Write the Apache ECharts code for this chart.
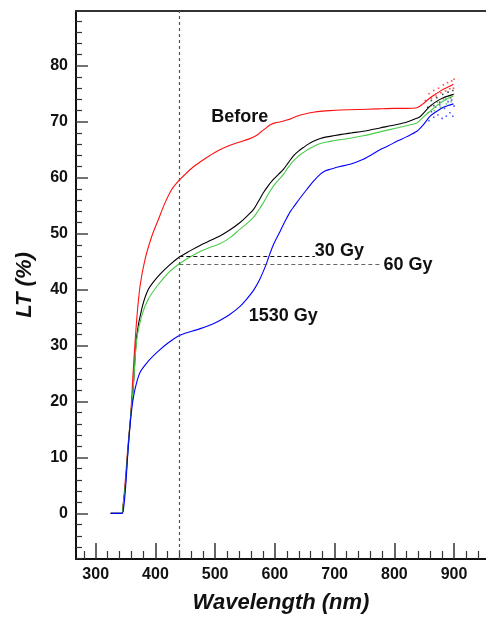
<!DOCTYPE html>
<html>
<head>
<meta charset="utf-8">
<script src="https://cdn.jsdelivr.net/npm/echarts@6/dist/echarts.min.js"></script>
<style>html,body{margin:0;padding:0;background:#fff}#c{width:486px;height:619px}</style>
</head>
<body>
<div id="c"></div>
<script>
// ---- data (wavelength nm, LT %) ----
const before = [[325,0],[343,0],[346,1.6],[350,6.5],[354,12],[358.6,17.6],[363,25.8],[368.7,34.7],[374.2,40.6],[382.6,45.4],[393.8,49.5],[404.8,52.5],[416,55.5],[427.3,57.9],[438.4,59.4],[449.6,60.6],[460.8,61.7],[474.7,62.8],[488.6,63.8],[508,65.0],[525,65.8],[541.7,66.4],[556,66.9],[569.7,67.6],[578,68.3],[586.4,69.0],[593,69.5],[600.3,69.8],[610,70.0],[620,70.3],[628,70.6],[636.7,71.0],[650,71.4],[664.5,71.7],[680,71.9],[692.5,72.0],[709,72.1],[740,72.2],[770,72.3],[800,72.4],[820,72.4],[837.7,72.5],[848,73.2],[860,74.3],[870,75.0],[882,75.8],[890,76.2],[899,76.7]];
const gy30 = [[325,0],[343.5,0],[346,1.4],[350,5.5],[354,11.4],[358.6,17.4],[363,22.8],[368.7,31.7],[377,36.5],[388,40.0],[404.8,42.4],[421.6,44.2],[438.4,45.7],[449.6,46.4],[460.8,47.1],[474.7,47.9],[490,48.7],[508,49.6],[525,50.7],[541.7,52.0],[553,53.1],[564,54.3],[572,55.7],[580.7,57.3],[589,58.6],[597.5,59.7],[606,60.6],[614.3,61.5],[622,62.6],[631,63.9],[640,64.8],[647.8,65.4],[656,66.0],[664.5,66.5],[676,67.0],[686.9,67.3],[709,67.7],[728,68.0],[748,68.3],[776,68.9],[804,69.5],[820,69.9],[832,70.4],[843,70.9],[852,71.9],[860,72.8],[870,73.6],[882,74.3],[890,74.6],[899,74.9]];
const gy60 = [[325,0],[343.5,0],[346,1.4],[350,5.5],[354,11.4],[358.6,17.4],[363,22.8],[368.7,31.1],[377,35.3],[388,38.3],[404.8,40.9],[421.6,43.0],[438.4,44.5],[449.6,45.3],[460.8,46.0],[474.7,46.8],[490,47.5],[508,48.2],[525,49.3],[541.7,50.8],[553,51.8],[564,52.9],[572,54.1],[580.7,55.5],[589,57.1],[597.5,58.5],[606,59.6],[614.3,60.6],[622,61.8],[631,63.0],[640,63.9],[647.8,64.5],[656,65.1],[664.5,65.6],[676,66.1],[686.9,66.4],[709,66.8],[728,67.1],[748,67.5],[776,68.2],[804,68.9],[820,69.3],[837.7,69.8],[848,70.8],[860,71.9],[870,72.8],[882,73.7],[890,74.2],[899,74.6]];
const gy1530 = [[325,0],[344,0],[347,1.2],[350,4.6],[353,9.5],[356.5,14.5],[360.3,18.6],[365.8,22.2],[374.2,25.2],[388,27.2],[404.8,29.0],[421.6,30.5],[438.4,31.7],[449.6,32.2],[469,32.8],[483,33.3],[497,33.9],[510,34.6],[525,35.6],[541.7,37.0],[552.8,38.3],[565,40.0],[575,41.9],[585,44.4],[589,45.6],[597,47.9],[608.7,50.4],[617,52.2],[625.5,53.9],[633,55.0],[641,56.2],[653.4,57.9],[664,59.3],[675.7,60.6],[684,61.2],[692.5,61.5],[709,62.0],[726,62.4],[748,63.3],[762,64.1],[776,65.0],[790,65.7],[804,66.5],[820,67.3],[837.7,68.3],[848.8,69.5],[860,71.0],[870,71.8],[882,72.6],[890,72.9],[899,73.2]];

// scattered noisy readings at the long-wavelength end
const beforeNoise = [[852,73.8],[858,75.0],[862,74.2],[866,75.6],[870,74.6],[874,76.0],[878,75.2],[882,76.6],[886,75.5],[889,77.0],[893,75.9],[896,77.3],[899,76.0],[900,77.6]];
const gy30Noise = [[856,72.6],[862,73.8],[866,72.9],[871,74.3],[876,73.5],[881,74.9],[886,74.0],[890,75.3],[894,74.3],[898,75.6]];
const gy60Noise = [[856,71.6],[862,72.9],[867,72.0],[872,73.5],[877,72.6],[882,74.1],[887,73.2],[891,74.6],[895,73.6],[899,74.9]];
const gy1530Noise = [[858,70.2],[862,71.8],[866,70.8],[869,72.6],[873,71.2],[876,73.0],[880,70.6],[884,72.4],[887,71.0],[890,73.6],[893,71.6],[896,73.9],[898,71.0],[900,72.8]];

// axes
const xMin = 267, xMax = 953.5, yMin = -8.15, yMax = 89.8;
const xMajor = [300,400,500,600,700,800,900];
const xMinor = [280,320,340,360,380,420,440,460,480,520,540,560,580,620,640,660,680,720,740,760,780,820,840,860,880,920,940];
const yMajor = [0,10,20,30,40,50,60,70,80];
const yMinor = [-8,-6,-4,-2,2,4,6,8,12,14,16,18,22,24,26,28,32,34,36,38,42,44,46,48,52,54,56,58,62,64,66,68,72,74,76,78,82,84,86,88];

// reference lines and annotations
const refWavelength = 440;
const level30 = 45.9, level30End = 667;
const level60 = 44.6, level60End = 779;
const labels = [
  {text:'Before', x:541, y:70.9},
  {text:'30 Gy', x:708, y:46.9},
  {text:'60 Gy', x:823, y:44.4},
  {text:'1530 Gy', x:614, y:35.3}
];

const FONT = '"Liberation Sans", Arial, sans-serif';
const chart = echarts.init(document.getElementById('c'), null, {renderer:'canvas'});

function lineSeries(name, data, color, extra) {
  return Object.assign({
    name, type:'line', data, showSymbol:false, smooth:0.3,
    lineStyle:{color, width:1.1}, itemStyle:{color}, z:3
  }, extra || {});
}
function noiseSeries(data, color) {
  return {type:'scatter', data, symbol:'rect', symbolSize:1.6, itemStyle:{color, opacity:0.8}, z:2};
}
const txtStyle = {fontFamily:FONT, fontWeight:'bold', fontSize:18, color:'#111'};

chart.setOption({
  animation:false,
  backgroundColor:'#fff',
  grid:{left:76, top:11, right:0, bottom:59, containLabel:false},
  xAxis:[
    {type:'value', min:xMin, max:xMax, position:'bottom',
     name:'Wavelength (nm)', nameLocation:'middle', nameGap:33,
     nameTextStyle:{fontFamily:FONT, fontWeight:'bold', fontStyle:'italic', fontSize:22, color:'#111'},
     axisLine:{show:true, onZero:false, lineStyle:{color:'#111', width:2}},
     axisTick:{show:true, inside:true, length:16, customValues:xMajor, lineStyle:{color:'#333', width:1.5}},
     axisLabel:{show:true, customValues:xMajor, margin:8, fontFamily:FONT, fontWeight:'bold', fontSize:16, color:'#111'},
     splitLine:{show:false}},
    {type:'value', min:xMin, max:xMax, position:'bottom',
     axisLine:{show:false, onZero:false}, axisTick:{show:true, inside:true, length:8, customValues:xMinor, lineStyle:{color:'#333', width:1.2}},
     axisLabel:{show:false}, splitLine:{show:false}},
    {type:'value', min:xMin, max:xMax, position:'top',
     axisLine:{show:true, onZero:false, lineStyle:{color:'#333', width:2}},
     axisTick:{show:false}, axisLabel:{show:false}, splitLine:{show:false}}
  ],
  yAxis:[
    {type:'value', min:yMin, max:yMax, position:'left',
     name:'LT (%)', nameLocation:'middle', nameGap:40, nameRotate:90,
     nameTextStyle:{fontFamily:FONT, fontWeight:'bold', fontStyle:'italic', fontSize:22, color:'#111'},
     axisLine:{show:true, onZero:false, lineStyle:{color:'#111', width:2}},
     axisTick:{show:true, inside:true, length:12, customValues:yMajor, lineStyle:{color:'#444', width:1.5}},
     axisLabel:{show:true, customValues:yMajor, margin:8, fontFamily:FONT, fontWeight:'bold', fontSize:16, color:'#111'},
     splitLine:{show:false}},
    {type:'value', min:yMin, max:yMax, position:'left',
     axisLine:{show:false, onZero:false}, axisTick:{show:true, inside:true, length:6, customValues:yMinor, lineStyle:{color:'#333', width:1.2}},
     axisLabel:{show:false}, splitLine:{show:false}}
  ],
  series:[
    noiseSeries(beforeNoise, '#ff2020'),
    noiseSeries(gy30Noise, '#222'),
    noiseSeries(gy60Noise, '#44bb44'),
    noiseSeries(gy1530Noise, '#2030ff'),
    lineSeries('Before', before, '#ff1010', {
      markLine:{silent:true, symbol:'none', label:{show:false},
        lineStyle:{color:'#555', type:[3,3], width:1.2},
        data:[[{coord:[refWavelength,yMin]},{coord:[refWavelength,yMax]}]]},
      markPoint:{symbol:'circle', symbolSize:0, silent:true,
        label:Object.assign({show:true, position:'inside', formatter:p=>p.name}, txtStyle),
        data:labels.map(l=>({name:l.text, coord:[l.x,l.y]}))}
    }),
    lineSeries('30 Gy', gy30, '#000000', {
      markLine:{silent:true, symbol:'none', label:{show:false},
        lineStyle:{color:'#111', type:[4,3], width:1.2},
        data:[[{coord:[refWavelength,level30]},{coord:[level30End,level30]}]]}
    }),
    lineSeries('60 Gy', gy60, '#4ccc4c', {
      markLine:{silent:true, symbol:'none', label:{show:false},
        lineStyle:{color:'#666', type:[4,3], width:1.2},
        data:[[{coord:[refWavelength,level60]},{coord:[level60End,level60]}]]}
    }),
    lineSeries('1530 Gy', gy1530, '#0000ff')
  ]
});
</script>
</body>
</html>
